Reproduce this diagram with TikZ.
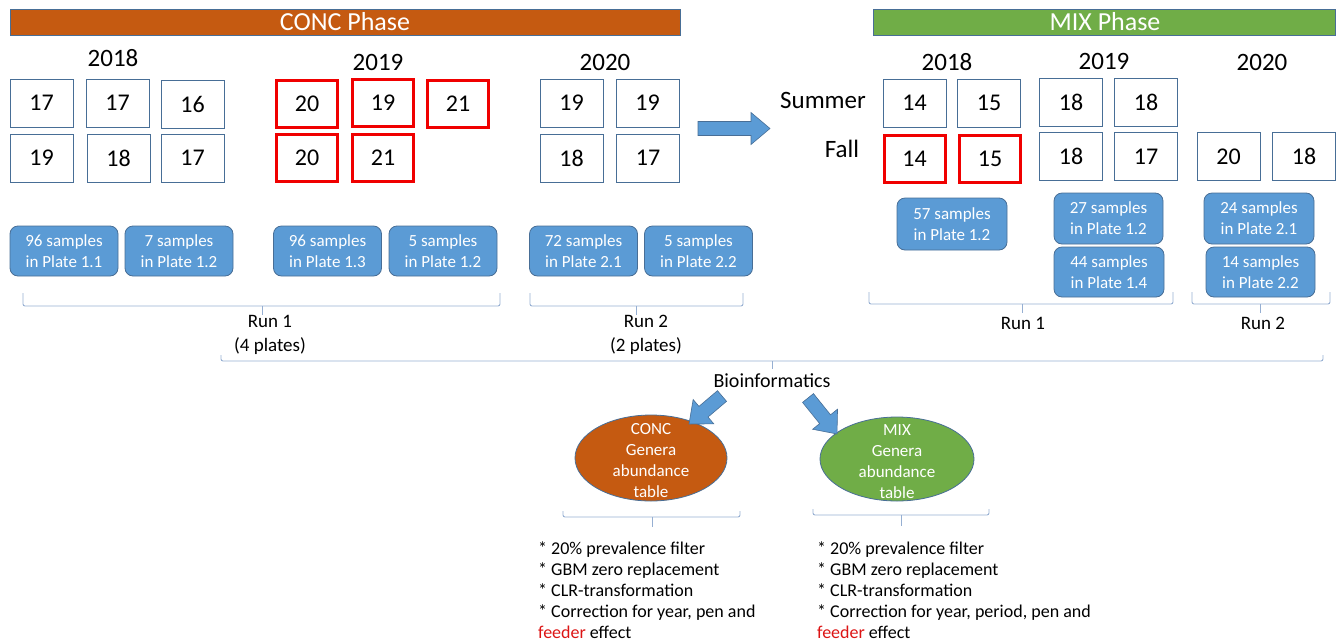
\documentclass[tikz,border=0pt]{standalone}
\usepackage{fontspec}
\setmainfont{Carlito}
\usetikzlibrary{calc,shapes.geometric}

\definecolor{concorange}{RGB}{197,90,17}
\definecolor{mixgreen}{RGB}{112,173,71}
\definecolor{boxedge}{RGB}{72,110,150}
\definecolor{sampleblue}{RGB}{91,155,213}
\definecolor{braceblue}{RGB}{150,175,210}
\definecolor{pinred}{RGB}{240,0,0}
\definecolor{feederred}{RGB}{220,20,20}

% block arrow from tail #1 to tip #2
\newcommand\blockarrow[2]{%
  \fill[sampleblue,draw=boxedge,line width=0.6pt,line join=miter]
    ($(#1)!7pt!90:(#2)$) --
    ($($(#2)!19pt!(#1)$)!7pt!90:(#2)$) --
    ($($(#2)!19pt!(#1)$)!16pt!90:(#2)$) --
    (#2) --
    ($($(#2)!19pt!(#1)$)!16pt!-90:(#2)$) --
    ($($(#2)!19pt!(#1)$)!7pt!-90:(#2)$) --
    ($(#1)!7pt!-90:(#2)$) -- cycle;}

% curly bracket: x-left, x-right, x-tip, y-top, y-bottom, y-tip
\newcommand\bracket[6]{%
  \draw[braceblue,line width=0.9pt,rounded corners=2pt]
    (#1,#4) -- (#1,#5) -- (#2,#5) -- (#2,#4);
  \draw[braceblue,line width=0.9pt] (#3,#5) -- (#3,#6);}

\tikzset{
  pen/.style={draw=boxedge,line width=1pt,minimum width=63pt,minimum height=48pt,
    inner sep=0pt,font=\fontsize{24}{29}\selectfont},
  redpen/.style={pen,draw=pinred,line width=3pt,minimum width=61pt,minimum height=47pt},
  plate/.style={draw=boxedge,fill=sampleblue,line width=0.8pt,rounded corners=8pt,
    minimum width=108pt,minimum height=50pt,text=white,align=center,inner sep=0pt,
    font=\fontsize{17}{21}\selectfont},
  year/.style={font=\fontsize{25}{30}\selectfont},
  season/.style={font=\fontsize{25}{30}\selectfont},
  phasebar/.style={draw=boxedge,line width=1pt,text=white,inner sep=0pt,
    font=\fontsize{26}{30}\selectfont},
  runlabel/.style={font=\fontsize{19}{24}\selectfont,align=center},
  tablebubble/.style={ellipse,draw=boxedge,line width=0.8pt,inner sep=0pt},
  bubbletext/.style={text=white,align=center,font=\fontsize{17}{21}\selectfont},
  steps/.style={align=left,anchor=north west,inner sep=0pt,font=\fontsize{18}{21}\selectfont},
}

\begin{document}
\begin{tikzpicture}[x=1pt,y=-1pt]
\useasboundingbox (0,0) rectangle (1341,643);

% ---------- phase banners ----------
\node[phasebar,fill=concorange,minimum width=670pt,minimum height=26pt] (concbar) at (345,22) {};
\node[text=white,font=\fontsize{26}{30}\selectfont] (conctitle) at (345,22) {CONC Phase};
\node[phasebar,fill=mixgreen,minimum width=462pt,minimum height=26pt] (mixbar) at (1104,22) {};
\node[text=white,font=\fontsize{26}{30}\selectfont] (mixtitle) at (1105,22) {MIX Phase};

% ---------- CONC years ----------
\node[year] (y18c) at (113,58) {2018};
\node[year] (y19c) at (378,62) {2019};
\node[year] (y20c) at (605,62) {2020};

\node[pen] (c1) at (41.5,103) {17};
\node[pen] (c2) at (117.5,103) {17};
\node[pen] (c3) at (192.5,104) {16};
\node[pen] (c4) at (41.5,158) {19};
\node[pen] (c5) at (118.5,158) {18};
\node[pen] (c6) at (192.5,158) {17};

\node[redpen] (c7) at (307,103.5) {20};
\node[redpen] (c8) at (383,103) {19};
\node[redpen] (c9) at (458,104) {21};
\node[redpen] (c10) at (307,158) {20};
\node[redpen] (c11) at (383,158) {21};

\node[pen] (c12) at (571.5,103) {19};
\node[pen] (c13) at (647.5,103) {19};
\node[pen] (c14) at (571.5,158) {18};
\node[pen] (c15) at (648,158) {17};

% ---------- transition arrow ----------
\coordinate (tailh) at (698,128.5);
\coordinate (tiph) at (770,128.5);
\blockarrow{tailh}{tiph}

% ---------- MIX seasons and years ----------
\node[season] (summer) at (823,100) {Summer};
\node[season] (fall) at (842,149) {Fall};

\node[year] (y18m) at (947,62) {2018};
\node[year] (y19m) at (1104,61) {2019};
\node[year] (y20m) at (1262,62) {2020};

\node[pen] (m1) at (914.5,103) {14};
\node[pen] (m2) at (989,103) {15};
\node[redpen] (m3) at (914.5,158.5) {14};
\node[redpen] (m4) at (990,159) {15};

\node[pen] (m5) at (1071,102) {18};
\node[pen] (m6) at (1146,102) {18};
\node[pen] (m7) at (1071,156.5) {18};
\node[pen] (m8) at (1146,156.5) {17};

\node[pen] (m9) at (1228.5,156.5) {20};
\node[pen] (m10) at (1304,156.5) {18};

% ---------- plates ----------
\node[plate] (p1) at (64,251) {96 samples\\in Plate 1.1};
\node[plate] (p2) at (179,251) {7 samples\\in Plate 1.2};
\node[plate] (p3) at (327.5,251) {96 samples\\in Plate 1.3};
\node[plate] (p4) at (443,251) {5 samples\\in Plate 1.2};
\node[plate] (p5) at (583.5,251) {72 samples\\in Plate 2.1};
\node[plate] (p6) at (698.5,251) {5 samples\\in Plate 2.2};

\node[plate,minimum width=110pt,minimum height=52pt] (p7) at (952,224) {57 samples\\in Plate 1.2};
\node[plate,minimum width=109pt,minimum height=51pt] (p8) at (1108.5,218.5) {27 samples\\in Plate 1.2};
\node[plate,minimum width=110pt] (p9) at (1109,272) {44 samples\\in Plate 1.4};
\node[plate,minimum width=110pt,minimum height=51pt] (p10) at (1259,218.5) {24 samples\\in Plate 2.1};
\node[plate,minimum width=109pt] (p11) at (1260.5,272) {14 samples\\in Plate 2.2};

% ---------- sequencing runs ----------
\bracket{23}{500}{262}{293}{306}{315}
\bracket{530}{743}{636}{293}{306}{315}
\bracket{869}{1173}{1022}{292}{304}{313}
\bracket{1192}{1330}{1260}{292}{304}{313}

\node[runlabel] (run1c) at (270,335) {Run 1\\(4 plates)};
\node[runlabel] (run2c) at (646,335) {Run 2\\(2 plates)};
\node[runlabel] (run1m) at (1023,323) {Run 1};
\node[runlabel] (run2m) at (1263,323) {Run 2};

% ---------- bioinformatics ----------
\bracket{221}{1323}{772}{355}{361}{369}
\node[font=\fontsize{20}{24}\selectfont] (bioinf) at (772,381) {Bioinformatics};

\node[tablebubble,fill=concorange,minimum width=152pt,minimum height=86pt] (conctab) at (651,458) {};
\node[bubbletext] (conctabtext) at (651,461) {CONC\\Genera\\abundance\\table};
\node[tablebubble,fill=mixgreen,minimum width=154pt,minimum height=84pt] (mixtab) at (897,459) {};
\node[bubbletext] (mixtabtext) at (897,462) {MIX\\Genera\\abundance\\table};

\coordinate (taill) at (722,396);
\coordinate (tipl) at (689,424);
\coordinate (tailr) at (808,398);
\coordinate (tipr) at (837,434);
\blockarrow{taill}{tipl}
\blockarrow{tailr}{tipr}

% ---------- processing steps ----------
\bracket{563}{740}{652}{511}{517}{527}
\bracket{813}{989}{901}{509}{515}{526}

\node[steps] (concsteps) at (538,542) {* 20\% prevalence filter\\* GBM zero replacement\\* CLR-transformation\\* Correction for year, pen and\\\textcolor{feederred}{feeder} effect};
\node[steps] (mixsteps) at (817,542) {* 20\% prevalence filter\\* GBM zero replacement\\* CLR-transformation\\* Correction for year, period, pen and\\\textcolor{feederred}{feeder} effect};
\end{tikzpicture}
\end{document}
